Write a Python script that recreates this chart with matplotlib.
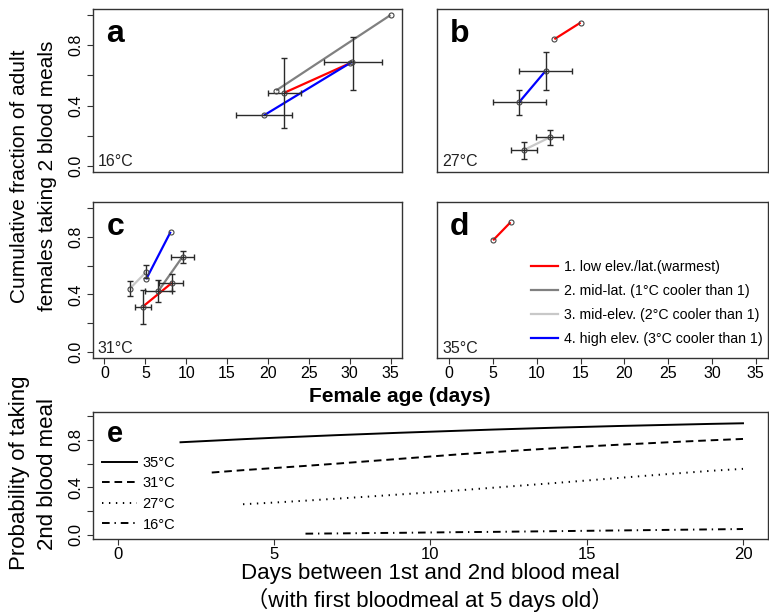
import numpy as np
import matplotlib
matplotlib.use("Agg")
import matplotlib.pyplot as plt
from matplotlib.lines import Line2D

plt.rcParams['font.family'] = ['Liberation Sans', 'DejaVu Sans']
plt.rcParams['lines.scale_dashes'] = False

# ---------------- data ----------------
group_labels = ["1. low elev./lat.(warmest)", "2. mid-lat. (1°C cooler than 1)",
                "3. mid-elev. (2°C cooler than 1)", "4. high elev. (3°C cooler than 1)"]
group_colors = ["#ff0000", "#808080", "#c8c8c8", "#0000ff"]

# panel a (16°C)
a_red_x = [22.0, 30.0];  a_red_y = [0.485, 0.68]
a_gray_x = [21.0, 35.0]; a_gray_y = [0.50, 1.00]
a_blue_x = [19.5, 30.3]; a_blue_y = [0.335, 0.69]
a_err_x = [22.0, 30.4, 19.5]
a_err_y = [0.485, 0.687, 0.335]
a_err_xlo = [20.0, 26.9, 16.1]
a_err_xhi = [24.0, 33.9, 23.0]
a_err_ylo = [0.254, 0.505, np.nan]
a_err_yhi = [0.717, 0.855, np.nan]

# panel b (27°C)
b_red_x = [12.0, 15.0];  b_red_y = [0.84, 0.95]
b_blue_x = [8.0, 11.0];  b_blue_y = [0.424, 0.63]
b_lgray_x = [8.5, 11.5]; b_lgray_y = [0.105, 0.19]
b_err_x = [8.0, 11.0, 8.5, 11.5]
b_err_y = [0.424, 0.63, 0.105, 0.19]
b_err_xlo = [5.0, 8.0, 7.0, 9.9]
b_err_xhi = [11.0, 14.0, 10.0, 13.0]
b_err_ylo = [0.336, 0.503, 0.044, 0.14]
b_err_yhi = [0.505, 0.752, 0.162, 0.236]

# panel c (31°C)
c_red_x = [4.7, 8.25];   c_red_y = [0.316, 0.48]
c_gray_x = [6.6, 9.55];  c_gray_y = [0.424, 0.661]
c_lgray_x = [3.1, 5.1];  c_lgray_y = [0.44, 0.555]
c_blue_x = [5.1, 8.1];   c_blue_y = [0.505, 0.834]
c_err_x = [3.1, 5.1, 6.6, 9.55, 4.7, 8.25]
c_err_y = [0.44, 0.555, 0.424, 0.661, 0.316, 0.48]
c_err_xlo = [np.nan, np.nan, 5.0, 8.13, 3.78, 6.63]
c_err_xhi = [np.nan, np.nan, 8.25, 11.0, 5.69, 9.6]
c_err_ylo = [0.387, 0.516, 0.348, 0.62, 0.193, 0.424]
c_err_yhi = [0.493, 0.603, 0.502, 0.70, 0.43, 0.544]

# panel d (35°C)
d_red_x = [5.0, 7.0]; d_red_y = [0.775, 0.90]

# panel e
e_days_35 = list(range(2, 21))
e_prob_35 = [0.780, 0.793, 0.806, 0.818, 0.829, 0.840, 0.850, 0.860, 0.869, 0.878,
             0.887, 0.895, 0.903, 0.910, 0.917, 0.923, 0.929, 0.935, 0.940]
e_days_31 = list(range(3, 21))
e_prob_31 = [0.525, 0.545, 0.563, 0.581, 0.600, 0.620, 0.640, 0.660, 0.680, 0.697,
             0.714, 0.730, 0.745, 0.759, 0.772, 0.785, 0.797, 0.808]
e_days_27 = list(range(4, 21))
e_prob_27 = [0.258, 0.272, 0.288, 0.305, 0.322, 0.340, 0.358, 0.377, 0.397, 0.417,
             0.437, 0.458, 0.479, 0.500, 0.520, 0.540, 0.556]
e_days_16 = list(range(6, 21))
e_prob_16 = [0.010, 0.012, 0.015, 0.017, 0.020, 0.023, 0.025, 0.028, 0.031, 0.034,
             0.037, 0.040, 0.043, 0.046, 0.049]
e_labels = ["35°C", "31°C", "27°C", "16°C"]

x_ticks_age = [0, 5, 10, 15, 20, 25, 30, 35]
y_ticks = [0.0, 0.2, 0.4, 0.6, 0.8, 1.0]
y_ticklabels = ["0.0", "", "0.4", "", "0.8", ""]
e_x_ticks = [0, 5, 10, 15, 20]

# ---------------- figure ----------------
W, H = 769, 614
fig = plt.figure(figsize=(W / 100, H / 100), dpi=100)

def axes_px(l, t, r, b):
    return fig.add_axes([l / W, 1 - b / H, (r - l) / W, (b - t) / H])

ax_a = axes_px(93, 9, 402, 172)
ax_b = axes_px(437, 9, 768, 172)
ax_c = axes_px(93, 202, 402, 358)
ax_d = axes_px(437, 202, 768, 358)
ax_e = axes_px(93, 412, 768, 539)

frame_col = "#333333"
err_col = "#2a2a2a"

def style(ax, xt=False, yt=False, xlim=(-1.4, 36.4), ylim=(-0.04, 1.04)):
    ax.set_xlim(*xlim); ax.set_ylim(*ylim)
    for s in ax.spines.values():
        s.set_color(frame_col); s.set_linewidth(1.0)
    if yt:
        ax.set_yticks(y_ticks)
        ax.set_yticklabels(y_ticklabels, rotation=90, va='center')
        ax.tick_params(axis='y', length=4, width=0.8, color=frame_col, labelsize=11.5, pad=3)
    else:
        ax.set_yticks([])
    if xt:
        ax.set_xticks(x_ticks_age)
        ax.tick_params(axis='x', length=4, width=0.8, color=frame_col, labelsize=11.5, pad=1.5)
    else:
        ax.set_xticks([])

def seg(ax, x, y, c):
    ax.plot(x, y, color=c, lw=1.6, zorder=2, solid_capstyle='butt')

def pts(ax, x, y):
    ax.plot(x, y, 'o', ms=3.6, mfc='none', mec='#444444', mew=0.8, zorder=4)

def errs(ax, ex, ey, xlo, xhi, ylo, yhi):
    for x, y, a, b, c, d in zip(ex, ey, xlo, xhi, ylo, yhi):
        kw = dict(fmt='none', ecolor=err_col, elinewidth=1.0, capsize=2.2, capthick=1.0, zorder=3)
        if not np.isnan(a):
            ax.errorbar([x], [y], xerr=[[x - a], [b - x]], **kw)
        if not np.isnan(c):
            ax.errorbar([x], [y], yerr=[[y - c], [d - y]], **kw)

def panel_text(ax, letter, temp, lx=0.044, ly=0.80):
    ax.text(lx, ly, letter, transform=ax.transAxes, fontsize=23, fontweight='bold',
            ha='left', va='baseline')
    ax.text(0.016, 0.035, temp, transform=ax.transAxes, fontsize=11.5, ha='left',
            va='baseline', color='#222222')

# panel a
style(ax_a, xt=False, yt=True)
seg(ax_a, a_gray_x, a_gray_y, group_colors[1])
seg(ax_a, a_red_x, a_red_y, group_colors[0])
seg(ax_a, a_blue_x, a_blue_y, group_colors[3])
errs(ax_a, a_err_x, a_err_y, a_err_xlo, a_err_xhi, a_err_ylo, a_err_yhi)
for x, y in [(a_gray_x, a_gray_y), (a_red_x, a_red_y), (a_blue_x, a_blue_y)]:
    pts(ax_a, x, y)
panel_text(ax_a, "a", "16°C")

# panel b
style(ax_b, xt=False, yt=False)
seg(ax_b, b_red_x, b_red_y, group_colors[0])
seg(ax_b, b_blue_x, b_blue_y, group_colors[3])
seg(ax_b, b_lgray_x, b_lgray_y, group_colors[2])
errs(ax_b, b_err_x, b_err_y, b_err_xlo, b_err_xhi, b_err_ylo, b_err_yhi)
for x, y in [(b_red_x, b_red_y), (b_blue_x, b_blue_y), (b_lgray_x, b_lgray_y)]:
    pts(ax_b, x, y)
panel_text(ax_b, "b", "27°C", lx=0.039)

# panel c
style(ax_c, xt=True, yt=True)
seg(ax_c, c_lgray_x, c_lgray_y, group_colors[2])
seg(ax_c, c_gray_x, c_gray_y, group_colors[1])
seg(ax_c, c_red_x, c_red_y, group_colors[0])
seg(ax_c, c_blue_x, c_blue_y, group_colors[3])
errs(ax_c, c_err_x, c_err_y, c_err_xlo, c_err_xhi, c_err_ylo, c_err_yhi)
for x, y in [(c_lgray_x, c_lgray_y), (c_gray_x, c_gray_y), (c_red_x, c_red_y), (c_blue_x, c_blue_y)]:
    pts(ax_c, x, y)
panel_text(ax_c, "c", "31°C", ly=0.79)

# panel d
style(ax_d, xt=True, yt=False)
seg(ax_d, d_red_x, d_red_y, group_colors[0])
pts(ax_d, d_red_x, d_red_y)
panel_text(ax_d, "d", "35°C", lx=0.039, ly=0.79)
handles = [Line2D([], [], color=c, lw=1.6) for c in group_colors]
ax_d.legend(handles, group_labels, loc='upper left', bbox_to_anchor=(0.285, 0.63),
            frameon=False, fontsize=10.2, handlelength=1.9, handletextpad=0.4,
            labelspacing=0.72, borderpad=0, borderaxespad=0)

# panel e
ax_e.set_xlim(-0.8, 20.8); ax_e.set_ylim(-0.035, 1.035)
for s in ax_e.spines.values():
    s.set_color(frame_col); s.set_linewidth(1.0)
ax_e.set_xticks(e_x_ticks)
ax_e.set_yticks(y_ticks)
ax_e.set_yticklabels(y_ticklabels, rotation=90, va='center')
ax_e.tick_params(axis='y', length=4, width=0.8, color=frame_col, labelsize=12, pad=3)
ax_e.tick_params(axis='x', length=4, width=0.8, color=frame_col, labelsize=12, pad=1.5)
ls_35 = '-'
ls_31 = (0, (5.5, 3.5))
ls_27 = (0, (1.0, 4.0))
ls_16 = (0, (5.5, 3.5, 1.0, 3.5))
ax_e.plot(e_days_35, e_prob_35, color='black', lw=1.4, ls=ls_35)
ax_e.plot(e_days_31, e_prob_31, color='black', lw=1.4, ls=ls_31)
ax_e.plot(e_days_27, e_prob_27, color='black', lw=1.4, ls=ls_27)
ax_e.plot(e_days_16, e_prob_16, color='black', lw=1.4, ls=ls_16)
ax_e.text(0.02, 0.765, "e", transform=ax_e.transAxes, fontsize=21, fontweight='bold',
          ha='left', va='baseline')
e_handles = [Line2D([], [], color='black', lw=1.4, ls=s) for s in [ls_35, ls_31, ls_27, ls_16]]
ax_e.legend(e_handles, e_labels, loc='upper left', bbox_to_anchor=(0.014, 0.655),
            frameon=False, fontsize=10.5, handlelength=2.4, handletextpad=0.35,
            labelspacing=0.45, borderpad=0, borderaxespad=0)

# axis titles
fig.text(20 / W, 1 - 176 / H, "Cumulative fraction of adult", rotation=90, ha='center',
         va='center', fontsize=15)
fig.text(48 / W, 1 - 176 / H, "females taking 2 blood meals", rotation=90, ha='center',
         va='center', fontsize=15)
fig.text(400 / W, 1 - 397 / H, "Female age (days)", ha='center', va='center',
         fontsize=15, fontweight='bold')
fig.text(20 / W, 1 - 473 / H, "Probability of taking", rotation=90, ha='center',
         va='center', fontsize=16)
fig.text(48 / W, 1 - 474 / H, "2nd blood meal", rotation=90, ha='center',
         va='center', fontsize=16)
fig.text(430 / W, 1 - 573 / H, "Days between 1st and 2nd blood meal", ha='center',
         va='center', fontsize=16)
fig.text(430 / W, 1 - 600 / H, "（with first bloodmeal at 5 days old）", ha='center',
         va='center', fontsize=16, family=['Liberation Sans', 'Noto Sans CJK SC'])

fig.savefig("out.png", dpi=100)
